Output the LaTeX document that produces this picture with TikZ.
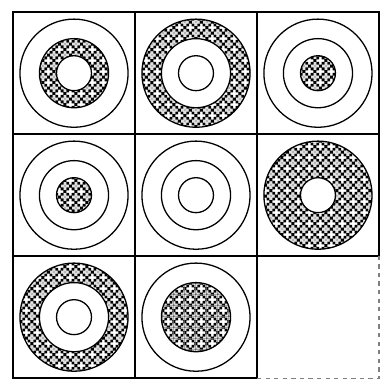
\documentclass[tikz,border=0pt]{standalone}
\usepackage{tikz}
\usetikzlibrary{patterns}
% white plus-shaped hole, cut out of the black tile
\newcommand{\plushole}[2]{%
	\pgfpathmoveto{\pgfpoint{#1+0.9pt}{#2+0.9pt}}
	\pgfpathlineto{\pgfpoint{#1+2.8pt}{#2+0.9pt}}
	\pgfpathlineto{\pgfpoint{#1+2.8pt}{#2-0.9pt}}
	\pgfpathlineto{\pgfpoint{#1+0.9pt}{#2-0.9pt}}
	\pgfpathlineto{\pgfpoint{#1+0.9pt}{#2-2.8pt}}
	\pgfpathlineto{\pgfpoint{#1-0.9pt}{#2-2.8pt}}
	\pgfpathlineto{\pgfpoint{#1-0.9pt}{#2-0.9pt}}
	\pgfpathlineto{\pgfpoint{#1-2.8pt}{#2-0.9pt}}
	\pgfpathlineto{\pgfpoint{#1-2.8pt}{#2+0.9pt}}
	\pgfpathlineto{\pgfpoint{#1-0.9pt}{#2+0.9pt}}
	\pgfpathlineto{\pgfpoint{#1-0.9pt}{#2+2.8pt}}
	\pgfpathlineto{\pgfpoint{#1+0.9pt}{#2+2.8pt}}
	\pgfpathclose}
\pgfdeclarepatternformonly{dotcross}{\pgfpointorigin}{\pgfpoint{7.6pt}{7.6pt}}{\pgfpoint{7.6pt}{7.6pt}}{%
	\pgfseteorule
	\pgfpathrectangle{\pgfpointorigin}{\pgfpoint{7.6pt}{7.6pt}}
	\plushole{0pt}{0pt}\plushole{7.6pt}{0pt}
	\plushole{0pt}{7.6pt}\plushole{7.6pt}{7.6pt}
	\plushole{3.8pt}{3.8pt}
	\pgfusepath{fill}}
\tikzset{
	cellbox/.style ={line width=1.3pt},
	ringline/.style={line width=0.9pt},
	dotted fill/.style={pattern=dotcross, even odd rule},
}
% radii: small, middle, outer
\newcommand{\rA}{0.43}
\newcommand{\rB}{0.85}
\newcommand{\rC}{1.33}
\newcommand{\hatchring}[4]{%
	\fill[dotted fill] (#1,#2) circle (#3) (#1,#2) circle (#4);
	\draw[ringline] (#1,#2) circle (#3);
	\draw[ringline] (#1,#2) circle (#4);}
\newcommand{\hatchdisk}[3]{%
	\fill[pattern=dotcross] (#1,#2) circle (#3);
	\draw[ringline] (#1,#2) circle (#3);}
\newcommand{\plain}[3]{\draw[ringline] (#1,#2) circle (#3);}
\begin{document}
\begin{tikzpicture}
	\useasboundingbox (-0.32,-0.07) rectangle (9.05,9.30);
	% grid of eight cells
	\foreach \x/\y in {0/6,3/6,6/6,0/3,3/3,6/3,0/0,3/0}
		\draw[cellbox] (\x,\y) rectangle ++(3,3);
	% empty last cell
	\draw[line width=0.9pt, dashed, gray] (6,0) -- (9,0) -- (9,3);
	% row 1
	\plain{1.5}{7.5}{\rC}
	\hatchring{1.5}{7.5}{\rB}{\rA}
	\hatchring{4.5}{7.5}{\rC}{\rB}
	\plain{4.5}{7.5}{\rA}
	\plain{7.5}{7.5}{\rC}
	\plain{7.5}{7.5}{\rB}
	\hatchdisk{7.5}{7.5}{\rA}
	% row 2
	\plain{1.5}{4.5}{\rC}
	\plain{1.5}{4.5}{\rB}
	\hatchdisk{1.5}{4.5}{\rA}
	\plain{4.5}{4.5}{\rC}
	\plain{4.5}{4.5}{\rB}
	\plain{4.5}{4.5}{\rA}
	\hatchring{7.5}{4.5}{\rC}{\rA}
	% row 3
	\hatchring{1.5}{1.5}{\rC}{\rB}
	\plain{1.5}{1.5}{\rA}
	\plain{4.5}{1.5}{\rC}
	\hatchdisk{4.5}{1.5}{\rB}
\end{tikzpicture}
\end{document}
